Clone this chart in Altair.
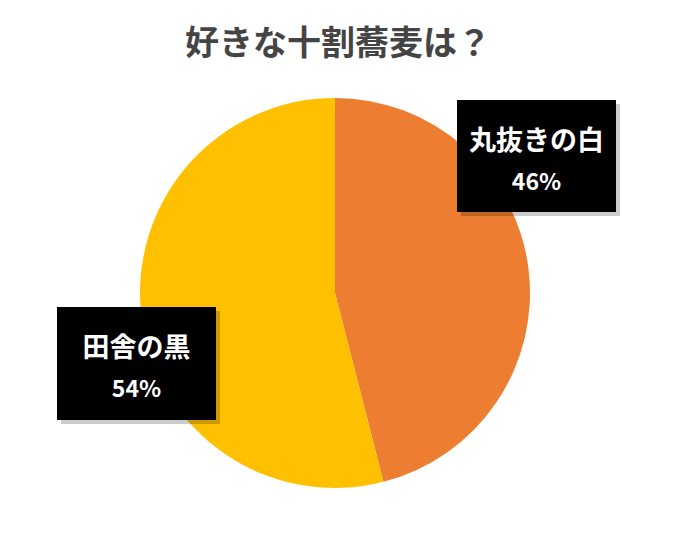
import altair as alt
import pandas as pd

categories = ["丸抜きの白", "田舎の黒"]
values = [46, 54]
colors = ["#ED7D31", "#FFC000"]
title_text = "好きな十割蕎麦は？"

df = pd.DataFrame({
    "cat": categories,
    "val": values,
    "ord": list(range(len(categories))),
    "pct": [f"{v}%" for v in values],
})

FONT = "Noto Sans CJK JP"
CX, CY, R = 327, 285, 195

base = alt.Chart(df)

pie = base.mark_arc(radius=R).encode(
    theta=alt.Theta("val:Q", stack=True),
    order=alt.Order("ord:Q"),
    color=alt.Color("cat:N", scale=alt.Scale(domain=categories, range=colors), legend=None),
    x=alt.value(CX),
    y=alt.value(CY),
)

title = alt.Chart(pd.DataFrame({"t": [title_text]})).mark_text(
    font=FONT, fontSize=34, fontWeight="bold", color="#444444", baseline="middle", align="center"
).encode(text="t:N", x=alt.value(330), y=alt.value(37))

boxes = {
    categories[0]: (449, 92, 608, 204),
    categories[1]: (49, 299, 208, 412),
}

layers = [pie, title]
for cat, (x1, y1, x2, y2) in boxes.items():
    sub = base.transform_filter(alt.datum.cat == cat)
    shadow = sub.mark_rect(color="#000000", opacity=0.2).encode(
        x=alt.value(x1 + 4), x2=alt.value(x2 + 4), y=alt.value(y1 + 4), y2=alt.value(y2 + 4)
    )
    box = sub.mark_rect(color="#000000").encode(
        x=alt.value(x1), x2=alt.value(x2), y=alt.value(y1), y2=alt.value(y2)
    )
    cx = (x1 + x2) / 2
    name = sub.mark_text(font=FONT, fontSize=27, fontWeight="bold", color="white",
                         align="center", baseline="middle").encode(
        text="cat:N", x=alt.value(cx), y=alt.value(y1 + 42)
    )
    pct = sub.mark_text(font=FONT, fontSize=23, fontWeight="bold", color="white",
                        align="center", baseline="middle").encode(
        text="pct:N", x=alt.value(cx), y=alt.value(y1 + 83)
    )
    layers += [shadow, box, name, pct]

chart = alt.layer(*layers).properties(
    width=650, height=510, autosize=alt.AutoSizeParams(type="none"), padding=0
).configure_view(stroke="transparent", strokeWidth=0)

chart.save("out.html", embed_options={"renderer": "svg", "actions": False})
